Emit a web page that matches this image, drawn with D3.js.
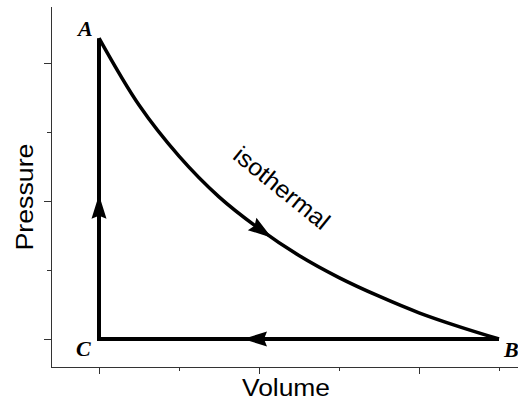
<!DOCTYPE html>
<html>
<head>
<meta charset="utf-8">
<script src="https://cdn.jsdelivr.net/npm/d3@7"></script>
<style>
  body { margin: 0; background: #fff; }
  svg { display: block; }
</style>
</head>
<body>
<svg></svg>
<script>
// cycle corners (volume, pressure) in axis units
const cornerNames = ["A", "B", "C"];
const cornerV = [1, 6, 1];
const cornerP = [5.36, 1, 1];

// isothermal A -> B
const isoV = [1, 1.5, 2, 2.5, 3, 3.5, 4, 4.5, 5, 5.5, 6];
const isoP = [5.36, 4.39, 3.65, 3.06, 2.6, 2.21, 1.89, 1.62, 1.38, 1.18, 1.0];

const majorV = [1, 3, 5];
const minorV = [2, 4, 6];
const majorP = [1, 3, 5];
const minorP = [2, 4];

// where the arrow tips sit
const arrowVert = 3.09; // pressure on C -> A
const arrowHoriz = 2.8; // volume on B -> C
const arrowIso = 3.16; // volume on A -> B

const svg = d3.select("svg").attr("width", 518).attr("height", 400);

const x = d3.scaleLinear().domain([1, 6]).range([99, 499]);
const y = d3.scaleLinear().domain([1, 5]).range([339, 63]);

const axisColor = "#333";
const left = 51, bottom = 367;
const sans = "Liberation Sans, Arial, sans-serif";

// axes
const xMajor = d3.axisBottom(x).tickValues(majorV).tickSize(7).tickFormat("");
const xMinor = d3.axisBottom(x).tickValues(minorV).tickSize(4).tickFormat("");
const yMajor = d3.axisLeft(y).tickValues(majorP).tickSize(7).tickFormat("");
const yMinor = d3.axisLeft(y).tickValues(minorP).tickSize(4).tickFormat("");

[xMajor, xMinor].forEach(a => {
  const g = svg.append("g").attr("transform", `translate(0,${bottom})`).call(a);
  g.select(".domain").remove();
  g.selectAll("line").attr("stroke", axisColor);
});
[yMajor, yMinor].forEach(a => {
  const g = svg.append("g").attr("transform", `translate(${left},0)`).call(a);
  g.select(".domain").remove();
  g.selectAll("line").attr("stroke", axisColor);
});

svg.append("line")
  .attr("x1", left).attr("x2", 520)
  .attr("y1", bottom + 0.5).attr("y2", bottom + 0.5)
  .attr("stroke", axisColor);
svg.append("line")
  .attr("x1", left + 0.5).attr("x2", left + 0.5)
  .attr("y1", 7).attr("y2", bottom)
  .attr("stroke", axisColor);

// axis titles
svg.append("text")
  .attr("x", 286).attr("y", 396)
  .attr("text-anchor", "middle")
  .attr("textLength", 88)
  .attr("lengthAdjust", "spacingAndGlyphs")
  .style("font-family", sans)
  .style("font-size", "23px")
  .text("Volume");

svg.append("text")
  .attr("transform", "translate(33,197) rotate(-90)")
  .attr("text-anchor", "middle")
  .attr("textLength", 107)
  .attr("lengthAdjust", "spacingAndGlyphs")
  .style("font-family", sans)
  .style("font-size", "24px")
  .text("Pressure");

// cycle lines
const A = [x(cornerV[0]), y(cornerP[0])];
const B = [x(cornerV[1]), y(cornerP[1])];
const C = [x(cornerV[2]), y(cornerP[2])];

svg.append("path")
  .attr("d", d3.line()([A, C, B]))
  .attr("fill", "none")
  .attr("stroke", "#000")
  .attr("stroke-width", 4)
  .attr("stroke-linejoin", "miter");

const isoPts = isoV.map((v, i) => [x(v), y(isoP[i])]);
const isoPath = svg.append("path")
  .attr("d", d3.line().curve(d3.curveCatmullRom)(isoPts))
  .attr("fill", "none")
  .attr("stroke", "#000")
  .attr("stroke-width", 3.5);

// arrowheads: tip at origin pointing along +x
const head = "M0,0 L-24,-7.5 L-21,0 L-24,7.5 Z";
function arrow(px, py, angle) {
  svg.append("path")
    .attr("d", head)
    .attr("transform", `translate(${px},${py}) rotate(${angle})`)
    .attr("fill", "#000");
}

arrow(x(1), y(arrowVert), -90);
arrow(x(arrowHoriz), y(1), 180);

// find tangent on the isotherm near the tip volume
const node = isoPath.node();
const total = node.getTotalLength();
let lo = 0, hi = total;
const tx = x(arrowIso);
for (let k = 0; k < 40; k++) {
  const mid = (lo + hi) / 2;
  if (node.getPointAtLength(mid).x < tx) lo = mid; else hi = mid;
}
const p0 = node.getPointAtLength(lo);
const p1 = node.getPointAtLength(Math.max(0, lo - 3));
arrow(p0.x, p0.y, Math.atan2(p0.y - p1.y, p0.x - p1.x) * 180 / Math.PI);

svg.append("text")
  .attr("transform", "translate(282,188) rotate(39)")
  .attr("text-anchor", "middle")
  .attr("dominant-baseline", "central")
  .attr("textLength", 116)
  .attr("lengthAdjust", "spacingAndGlyphs")
  .style("font-family", sans)
  .style("font-size", "24px")
  .text("isothermal");

// corner labels
const labelDx = [-21, 5, -23];
const labelDy = [-2, 18, 17];
svg.selectAll("text.corner")
  .data(cornerNames)
  .join("text")
  .attr("class", "corner")
  .attr("x", (d, i) => x(cornerV[i]) + labelDx[i])
  .attr("y", (d, i) => y(cornerP[i]) + labelDy[i])
  .style("font-family", "Liberation Serif, Times New Roman, serif")
  .style("font-weight", "bold")
  .style("font-style", "italic")
  .style("font-size", "22px")
  .text(d => d);
</script>
</body>
</html>
